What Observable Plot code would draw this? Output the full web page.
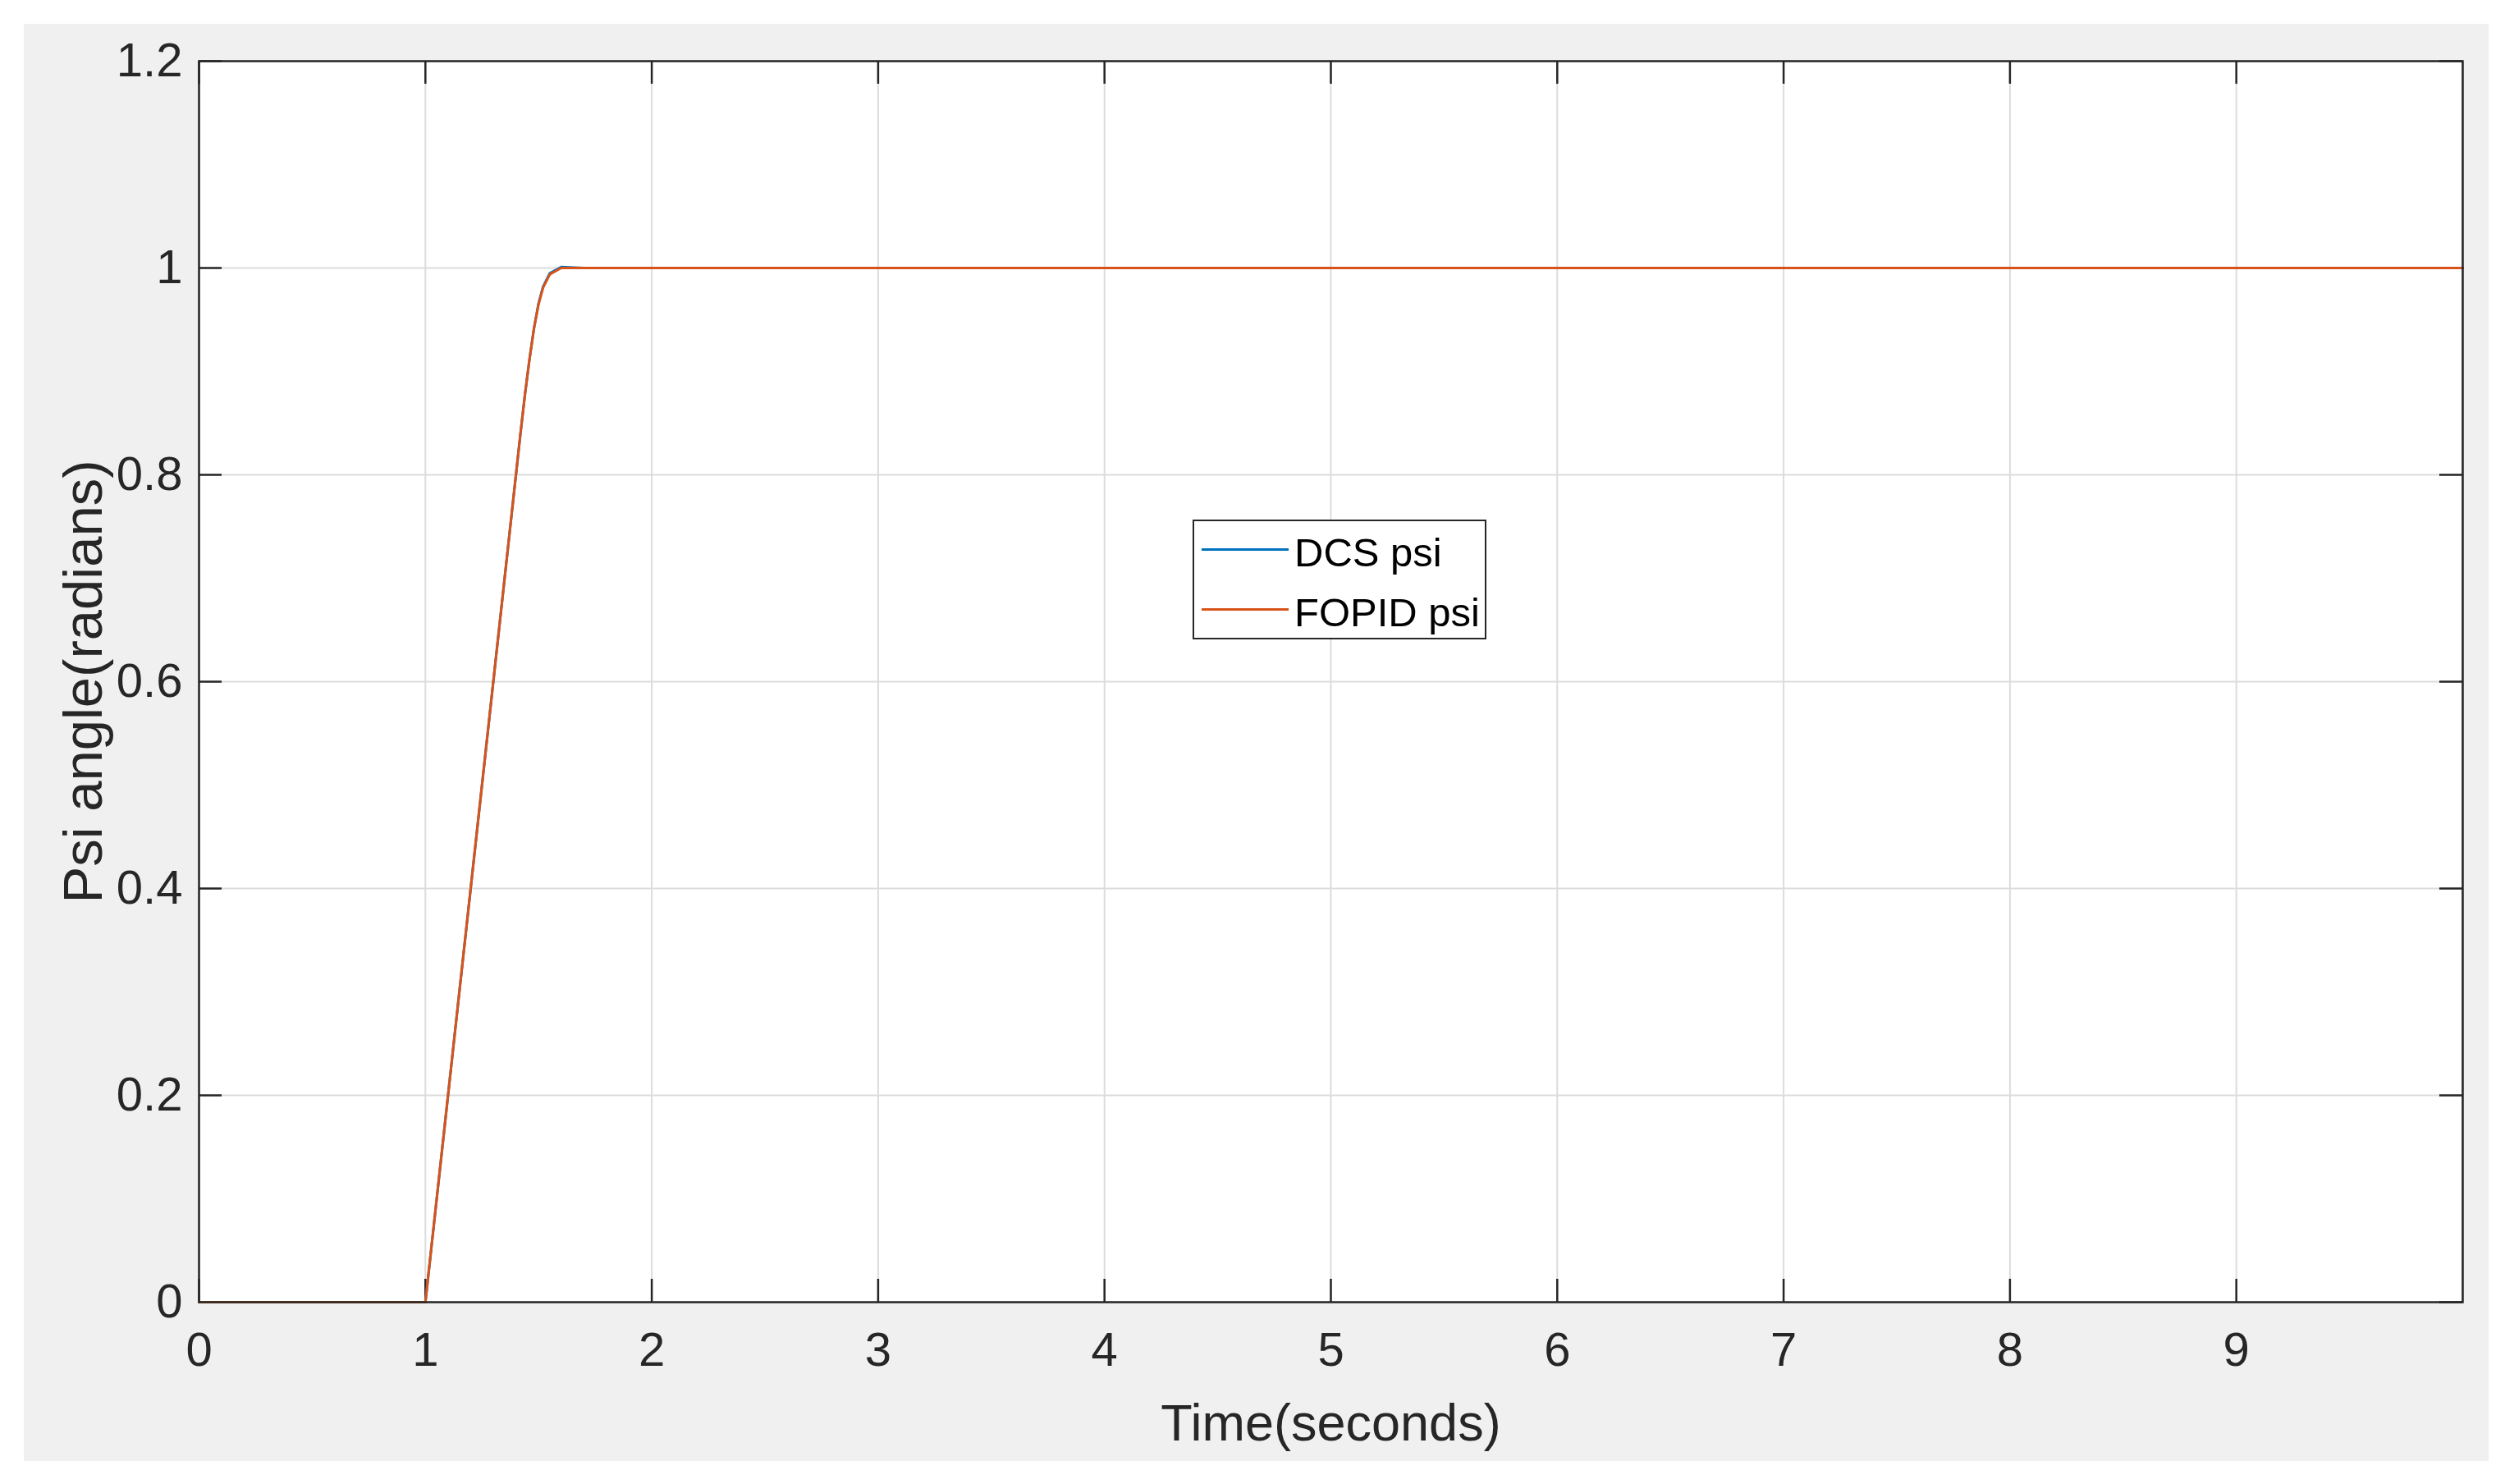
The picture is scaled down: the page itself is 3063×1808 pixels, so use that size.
<!DOCTYPE html>
<html>
<head>
<meta charset="utf-8">
<script src="https://cdn.jsdelivr.net/npm/d3@7"></script>
<script src="https://cdn.jsdelivr.net/npm/@observablehq/plot@0.6"></script>
<style>
  html, body { margin: 0; padding: 0; background: #ffffff; }
  #wrap { position: relative; width: 3063px; height: 1808px; overflow: hidden; }
  #bg { position: absolute; left: 29px; top: 29px; width: 3003px; height: 1751px; background: #f0f0f0; }
  #chart { position: absolute; left: 0; top: 0; }
  #chart svg { background: transparent !important; }
  #legend { position: absolute; left: 1453px; top: 633px; width: 358px; height: 146px; box-sizing: border-box;
            border: 2.5px solid #262626; background: #ffffff; font-family: "Liberation Sans", Arial, sans-serif; }
  .lg-line { position: absolute; left: 9px; width: 106px; height: 0; border-top: 3px solid; }
  .lg-text { position: absolute; left: 122px; font-size: 49px; color: #000; line-height: 1; white-space: nowrap; }
</style>
</head>
<body>
<div id="wrap">
  <div id="bg"></div>
  <div id="chart"></div>
  <div id="legend"></div>
</div>
<script>
// ---- data ----
const time  = [0, 1, 1.1, 1.2, 1.3, 1.4, 1.42, 1.44, 1.46, 1.48, 1.5, 1.52, 1.55, 1.6, 1.7, 10];
const dcsPsi   = [0, 0, 0.2, 0.4, 0.6, 0.8, 0.84, 0.878, 0.912, 0.942, 0.966, 0.982, 0.995, 1.001, 1.0, 1.0];
const fopidPsi = [0, 0, 0.2, 0.4, 0.6, 0.8, 0.84, 0.878, 0.912, 0.942, 0.965, 0.981, 0.994, 1.0, 1.0, 1.0];
const seriesNames = ["DCS psi", "FOPID psi"];
const seriesColors = ["#0072BD", "#D95319"];
const xTicks = [0, 1, 2, 3, 4, 5, 6, 7, 8, 9];
const yTicks = [0, 0.2, 0.4, 0.6, 0.8, 1, 1.2];
const xDomain = [0, 10];
const yDomain = [0, 1.2];
const xLabel = "Time(seconds)";
const yLabel = "Psi angle(radians)";

// ---- build table ----
const rows = [];
[dcsPsi, fopidPsi].forEach((vals, i) => {
  time.forEach((t, j) => rows.push({t, v: vals[j], s: seriesNames[i]}));
});

const W = 3063, H = 1808;
const mL = 242, mR = 63, mT = 74, mB = 222;
const innerW = W - mL - mR, innerH = H - mT - mB;
const tickPx = 28;
const tx = (xDomain[1] - xDomain[0]) * tickPx / innerW;
const ty = (yDomain[1] - yDomain[0]) * tickPx / innerH;
const axisColor = "#262626";
const font = "Liberation Sans, Arial, sans-serif";

const chart = Plot.plot({
  width: W, height: H,
  marginLeft: mL, marginRight: mR, marginTop: mT, marginBottom: mB,
  style: {fontFamily: font, background: "transparent", color: axisColor},
  x: {domain: xDomain},
  y: {domain: yDomain},
  marks: [
    Plot.frame({fill: "white", stroke: null}),
    Plot.gridX(xTicks.concat([10]), {stroke: "#dcdcdc", strokeOpacity: 1, strokeWidth: 2}),
    Plot.gridY(yTicks, {stroke: "#dcdcdc", strokeOpacity: 1, strokeWidth: 2}),
    // inner ticks
    Plot.ruleX(xTicks, {x: d => d, y1: yDomain[0], y2: yDomain[0] + ty, stroke: axisColor, strokeWidth: 2.5}),
    Plot.ruleX(xTicks, {x: d => d, y1: yDomain[1] - ty, y2: yDomain[1], stroke: axisColor, strokeWidth: 2.5}),
    Plot.ruleY(yTicks, {y: d => d, x1: xDomain[0], x2: xDomain[0] + tx, stroke: axisColor, strokeWidth: 2.5}),
    Plot.ruleY(yTicks, {y: d => d, x1: xDomain[1] - tx, x2: xDomain[1], stroke: axisColor, strokeWidth: 2.5}),
    Plot.line(rows, {x: "t", y: "v", z: "s", stroke: d => seriesColors[seriesNames.indexOf(d.s)], strokeWidth: 3}),
    Plot.frame({stroke: axisColor, strokeWidth: 2.5}),
    Plot.axisX({ticks: xTicks, tickSize: 0, tickPadding: 36, fontSize: 58, label: null, color: axisColor}),
    Plot.axisY({ticks: yTicks, tickSize: 0, tickPadding: 20, fontSize: 58, label: null, color: axisColor, tickFormat: d => String(d)}),
    Plot.text([xLabel], {text: d => d, frameAnchor: "bottom", dy: 148, lineAnchor: "middle", textAnchor: "middle", fontSize: 63, fill: axisColor}),
    Plot.text([yLabel], {text: d => d, frameAnchor: "left", dx: -140, rotate: -90, lineAnchor: "middle", textAnchor: "middle", fontSize: 67, fill: axisColor})
  ]
});
document.getElementById("chart").appendChild(chart);

// ---- legend ----
const legend = document.getElementById("legend");
const rowY = [34, 107];
seriesNames.forEach((name, i) => {
  const line = document.createElement("div");
  line.className = "lg-line";
  line.style.top = (rowY[i] - 1.5) + "px";
  line.style.borderTopColor = seriesColors[i];
  legend.appendChild(line);
  const txt = document.createElement("div");
  txt.className = "lg-text";
  txt.textContent = name;
  txt.style.top = (rowY[i] - 20) + "px";
  legend.appendChild(txt);
});
</script>
</body>
</html>
